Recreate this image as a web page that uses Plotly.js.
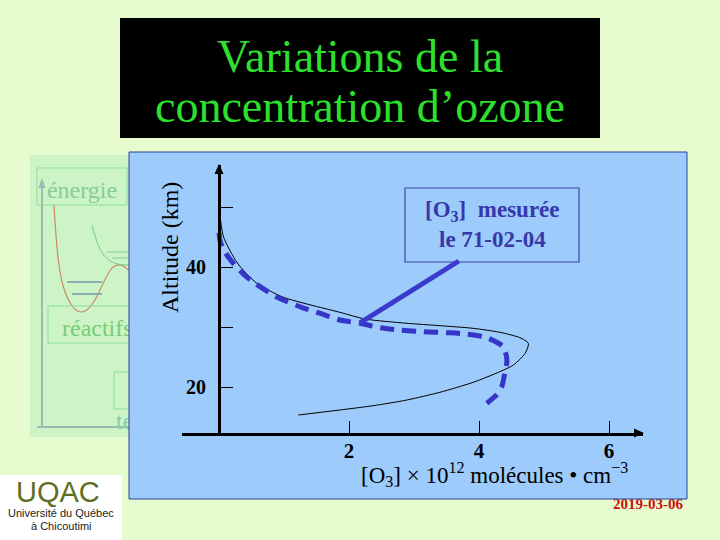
<!DOCTYPE html>
<html>
<head>
<meta charset="utf-8">
<script src="https://cdn.plot.ly/plotly-3.0.1.min.js"></script>
<style>html,body{margin:0;padding:0;background:#e6fccf;}#chart{width:720px;height:540px;}</style>
</head>
<body>
<div id="chart"></div>
<script>
// ---- data ----
const concModele = [0.02, 0.07, 0.28, 0.58, 0.98, 1.40, 1.86, 2.25, 2.89, 3.40, 3.91, 4.32, 4.63, 4.76, 4.71, 4.53, 4.32, 3.91, 3.40, 2.89, 2.37, 1.86, 1.22];
const altModele  = [48.1, 45.0, 40.7, 37.3, 35.0, 33.7, 32.45, 31.33, 30.62, 30.22, 29.78, 29.12, 28.22, 27.28, 25.62, 23.67, 22.55, 20.78, 19.12, 17.83, 16.88, 16.17, 15.33];
const concMesuree = [0.00, 0.02, 0.14, 0.43, 0.89, 1.29, 1.55, 1.86, 2.17, 2.48, 2.78, 3.14, 3.50, 3.81, 4.12, 4.37, 4.43, 4.40, 4.35, 4.27, 4.12];
const altMesuree  = [45.7, 44.2, 41.7, 38.3, 35.0, 33.2, 32.3, 31.17, 30.62, 29.88, 29.5, 29.22, 29.05, 28.83, 28.22, 26.72, 24.5, 22.55, 20.05, 18.67, 17.28];
const xTickVals = [2, 4, 6];
const xTickText = ['2', '4', '6'];
const yTickVals = [20, 40];
const yTickText = ['20', '40'];
const yMinorTicks = [30, 50];
const titleLines = ['Variations de la', 'concentration d\u2019ozone'];
const noteLines = ['[O<sub>3</sub>]  mesurée', 'le 71-02-04'];
const pointerFrom = [3.69, 41.0];
const pointerTo = [2.17, 30.7];

// ---- page geometry helpers ----
const W = 720, H = 540, ML = 182, MR = 77, MT = 165, MB = 107;
const PW = W - ML - MR, PH = H - MT - MB;
const fx = px => (px - ML) / PW;
const fy = py => (H - MB - py) / PH;
function rect(x0, y0, x1, y1, fill, line, lw, extra) {
  return Object.assign({type: 'rect', xref: 'paper', yref: 'paper', layer: 'below',
    x0: fx(x0), x1: fx(x1), y0: fy(y1), y1: fy(y0),
    fillcolor: fill, line: {color: line || 'rgba(0,0,0,0)', width: lw || 0}}, extra || {});
}
function seg(x0, y0, x1, y1, color, w) {
  return {type: 'line', xref: 'paper', yref: 'paper', layer: 'below',
    x0: fx(x0), y0: fy(y0), x1: fx(x1), y1: fy(y1), line: {color: color, width: w}};
}
function poly(pts, color, layer) {
  let d = pts.map((p, i) => (i ? 'L' : 'M') + fx(p[0]) + ',' + fy(p[1])).join(' ') + ' Z';
  return {type: 'path', xref: 'paper', yref: 'paper', layer: layer || 'below', path: d, fillcolor: color, line: {width: 0}};
}
function smoothPath(pts) {
  let d = 'M' + fx(pts[0][0]) + ',' + fy(pts[0][1]);
  for (let i = 1; i < pts.length - 1; i++) {
    const mx = (pts[i][0] + pts[i + 1][0]) / 2, my = (pts[i][1] + pts[i + 1][1]) / 2;
    d += ' Q' + fx(pts[i][0]) + ',' + fy(pts[i][1]) + ' ' + fx(mx) + ',' + fy(my);
  }
  const l = pts[pts.length - 1];
  d += ' L' + fx(l[0]) + ',' + fy(l[1]);
  return d;
}
function curve(pts, color, w) {
  return {type: 'path', xref: 'paper', yref: 'paper', layer: 'below', path: smoothPath(pts), line: {color: color, width: w}};
}
function note(px, py, text, font, extra) {
  return Object.assign({xref: 'paper', yref: 'paper', x: fx(px), y: fy(py), xanchor: 'center', yanchor: 'middle',
    showarrow: false, text: text, font: font}, extra || {});
}
const serif = 'Liberation Serif, Times New Roman, serif';
const sans = 'Liberation Sans, Arial, sans-serif';

const shapes = [
  // background diagram (left)
  rect(30, 155, 140, 437, '#ccf4c6'),
  seg(42, 184, 42, 427, '#99bbb0', 2),
  poly([[38.5, 188], [42, 178], [45.5, 188]], '#99bbb0'),
  seg(37, 427, 140, 427, '#99bbb0', 2),
  rect(37, 168, 127, 205, 'rgba(0,0,0,0)', '#8fdd99', 1,
    {label: {text: 'énergie', textposition: 'middle center', padding: 0,
     font: {family: serif, size: 24, color: '#88cc99'}}}),
  curve([[54, 205], [56, 240], [60, 275], [66, 296], [74, 309], [81, 313], [89, 309], [97, 297], [105, 279], [112, 267], [120, 264], [128, 269], [136, 278]], '#cc8a66', 1.2),
  curve([[92, 225], [96, 240], [101, 252], [108, 260], [116, 264], [124, 265], [136, 265]], '#77cc88', 1),
  seg(107, 252, 140, 252, '#88cc99', 1),
  seg(112, 258, 140, 258, '#88cc99', 1),
  seg(67, 282, 102, 282, '#7799aa', 1.5),
  seg(72, 294, 102, 294, '#7799aa', 1.5),
  rect(48, 306, 150, 343, 'rgba(0,0,0,0)', '#8fdd99', 1,
    {label: {text: 'réactifs', textposition: 'middle left', padding: 11,
     font: {family: serif, size: 24, color: '#77cc77'}}}),
  rect(114, 372, 150, 409, 'rgba(0,0,0,0)', '#8fdd99', 1),
  rect(112, 408, 220, 428, 'rgba(0,0,0,0)', null, 0,
    {label: {text: 'temps', textposition: 'middle left', padding: 1,
     font: {family: serif, size: 24, color: '#88ccaa'}}}),
  // date (partly hidden by the panel)
  rect(590, 492, 688, 512, 'rgba(0,0,0,0)', null, 0,
    {label: {text: '<b>2019-03-06</b>', textposition: 'middle right', padding: 2,
     font: {family: serif, size: 15, color: '#cc1111'}}}),
  // logo background
  rect(0, 475, 122, 540, '#ffffff'),
  // blue panel
  rect(129, 152, 687, 499, '#9dcbfb', '#2d3f99', 1),
  // title box
  rect(120, 18, 600, 138, '#000000'),
  // note box
  rect(405, 188, 579, 262, 'rgba(0,0,0,0)', '#3a4aa0', 1.2, {layer: 'above'}),
  // axis arrowheads
  poly([[634, 428.5], [644, 433], [634, 437.5]], '#000', 'above'),
  poly([[214.5, 174], [219, 164], [223.5, 174]], '#000', 'above'),
  // pointer from note to the measured curve
  {type: 'line', xref: 'x', yref: 'y', layer: 'above',
   x0: pointerFrom[0], y0: pointerFrom[1], x1: pointerTo[0], y1: pointerTo[1],
   line: {color: '#3a3acc', width: 5}}
];

const annotations = [
  note(360, 56, titleLines[0], {family: serif, size: 46, color: '#2ee02e'}),
  note(360, 106, titleLines[1], {family: serif, size: 46, color: '#2ee02e'}),
  note(170, 248, 'Altitude (km)', {family: serif, size: 24, color: '#000'}, {textangle: -90}),
  note(494, 474, '[O<sub>3</sub>] \u00d7 10<sup>12</sup> molécules \u2022 cm<sup>\u22123</sup>', {family: serif, size: 23, color: '#000'}),
  note(492, 211, '<b>' + noteLines[0] + '</b>', {family: serif, size: 23, color: '#3838a8'}),
  note(492, 239, '<b>' + noteLines[1] + '</b>', {family: serif, size: 23, color: '#3838a8'}),
  note(58, 492, 'UQAC', {family: sans, size: 29, color: '#5f6f26'}),
  note(61, 513, 'Université du Québec', {family: sans, size: 11, color: '#222'}),
  note(61, 526, 'à Chicoutimi', {family: sans, size: 11, color: '#222'})
];

const traces = [
  {x: concModele, y: altModele, type: 'scatter', mode: 'lines', name: 'modèle',
   line: {color: '#000000', width: 1, shape: 'spline', smoothing: 0.7}, hoverinfo: 'skip'},
  {x: concMesuree, y: altMesuree, type: 'scatter', mode: 'lines', name: 'mesurée',
   line: {color: '#3535c8', width: 5, dash: '14px,8px', shape: 'spline', smoothing: 0.7}, hoverinfo: 'skip'}
];

const layout = {
  width: W, height: H,
  margin: {l: ML, r: MR, t: MT, b: MB, pad: 0},
  paper_bgcolor: '#e6fccf', plot_bgcolor: 'rgba(0,0,0,0)',
  showlegend: false, hovermode: false,
  xaxis: {range: [(ML - 219) / 65, (W - MR - 219) / 65], showgrid: false, zeroline: false,
    showline: true, linewidth: 3, linecolor: '#000', ticks: 'inside', ticklen: 12, tickwidth: 1, tickcolor: '#000',
    tickmode: 'array', tickvals: xTickVals, ticktext: xTickText, ticklabelstandoff: -3,
    tickfont: {family: serif, size: 21, color: '#000', weight: 'bold'}, fixedrange: true},
  yaxis: {range: [40 - (H - MB - 267) / 6, 40 + (267 - MT) / 6], anchor: 'free', position: fx(219), side: 'left',
    showgrid: false, zeroline: false, showline: true, linewidth: 2.5, linecolor: '#000',
    ticks: 'inside', ticklen: 12, tickwidth: 1, tickcolor: '#000',
    tickmode: 'array', tickvals: yTickVals, ticktext: yTickText, ticklabelstandoff: 8,
    minor: {tickmode: 'array', tickvals: yMinorTicks, ticks: 'inside', ticklen: 12, tickwidth: 1, tickcolor: '#000', showgrid: false},
    tickfont: {family: serif, size: 20, color: '#000', weight: 'bold'}, fixedrange: true},
  shapes: shapes,
  annotations: annotations
};

Plotly.newPlot('chart', traces, layout, {displayModeBar: false, staticPlot: true});
</script>
</body>
</html>
